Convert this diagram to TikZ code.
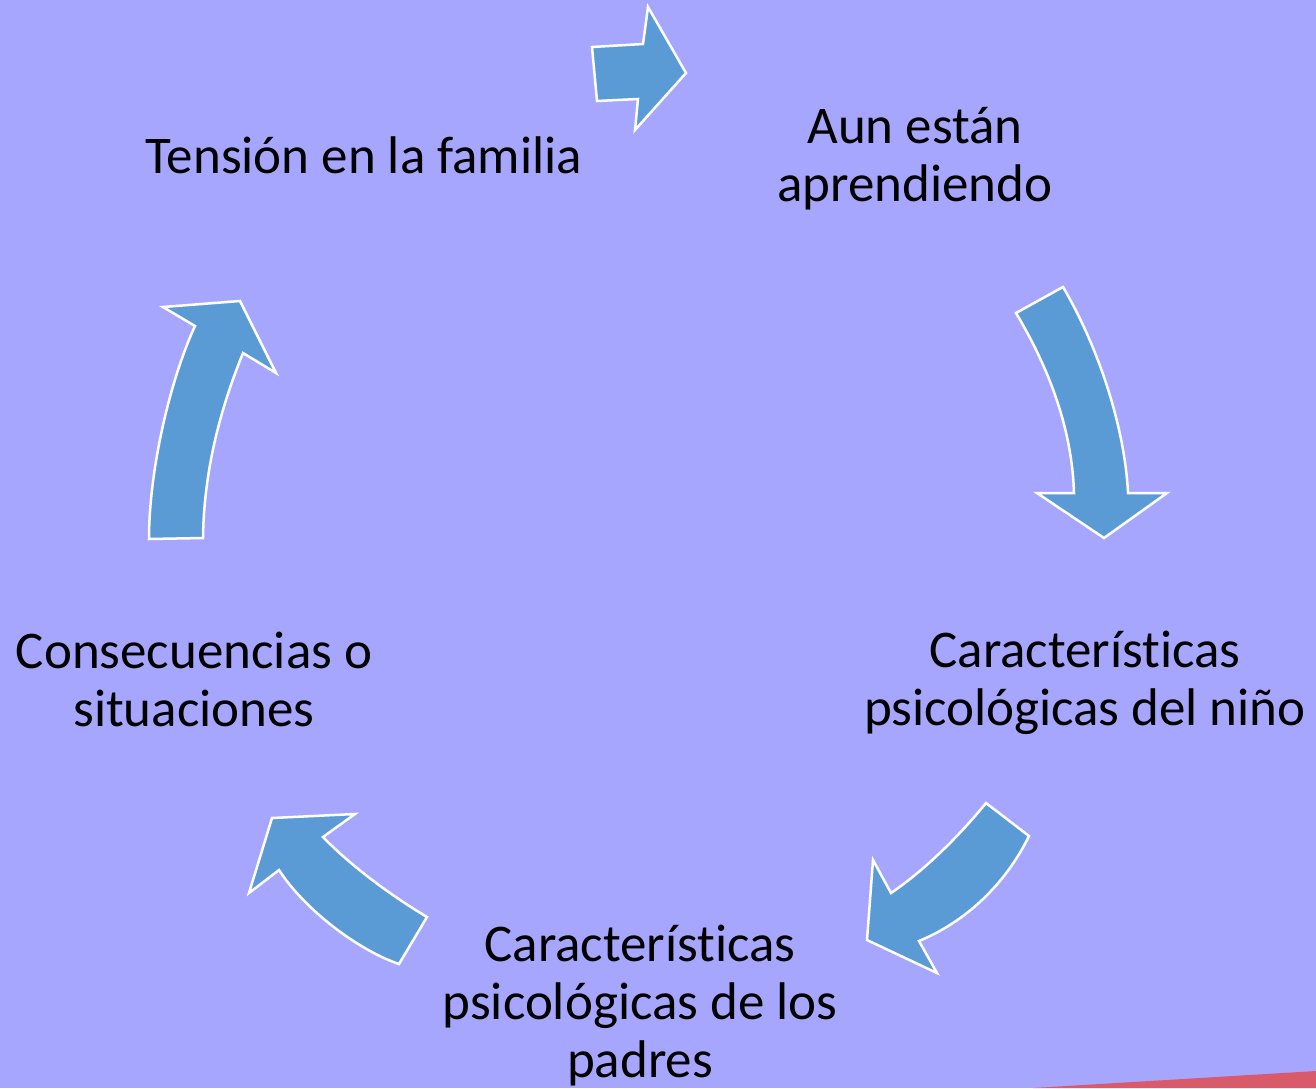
\documentclass[tikz,border=0pt]{standalone}
\usepackage{fontspec}
\setmainfont{Carlito}[Ligatures={NoCommon}]
\definecolor{bgc}{RGB}{166,166,255}
\definecolor{arrowc}{RGB}{91,155,213}
\definecolor{redc}{RGB}{217,91,107}
\begin{document}
\begin{tikzpicture}[x=1pt,y=-1pt,
  cyclearrow/.style={fill=arrowc,draw=white,line width=2.5pt,line join=miter},
  label/.style={align=center,inner sep=0pt,font=\fontsize{53}{58}\selectfont,text=black}]
\fill[bgc] (0,0) rectangle (1316,1088);
\useasboundingbox (0,0) rectangle (1316,1088);
\fill[redc] (1033,1088) -- (1316,1071) -- (1316,1088) -- cycle;

% arrow 1 (top, pointing right)
\draw[cyclearrow] (592,47) -- (643,44) -- (648,7) -- (686,73) -- (635,130) -- (638,99) -- (597,101) -- cycle;
% arrow 2 (right, pointing down)
\draw[cyclearrow] (1016,313) -- (1063,287) .. controls (1100,350) and (1125,430) .. (1128,493)
  -- (1167,493) -- (1104,538) -- (1037,493) -- (1074,493)
  .. controls (1072,430) and (1050,370) .. cycle;
% arrow 3 (bottom right, pointing down-left)
\draw[cyclearrow] (986,803) -- (1029,836) .. controls (1005,885) and (965,922) .. (919,941)
  -- (937,973) -- (867,940) -- (873,860) -- (891,893)
  .. controls (925,870) and (960,835) .. cycle;
% arrow 4 (bottom left, pointing up-left)
\draw[cyclearrow] (427,917) -- (399,964) .. controls (358,950) and (305,910) .. (279,870)
  -- (249,893) -- (272,818) -- (355,814) -- (323,837)
  .. controls (350,865) and (390,895) .. cycle;
% arrow 5 (left, pointing up)
\draw[cyclearrow] (149,539) -- (203,538) .. controls (204,460) and (226,395) .. (243,353)
  -- (276,373) -- (240,301) -- (163,307) -- (195,326)
  .. controls (170,380) and (149,470) .. cycle;

\node[label,anchor=base] (tension) at (364,173) {Tensión en la familia};
\node[label] (aun) at (915,159) {Aun están\\aprendiendo};
\node[label] (nino) at (1085,683) {Características\\psicológicas del niño};
\node[label] (padres) at (640,1006) {Características\\psicológicas de los\\padres};
\node[label] (conse) at (194,679) {Consecuencias o\\situaciones};
\end{tikzpicture}
\end{document}
